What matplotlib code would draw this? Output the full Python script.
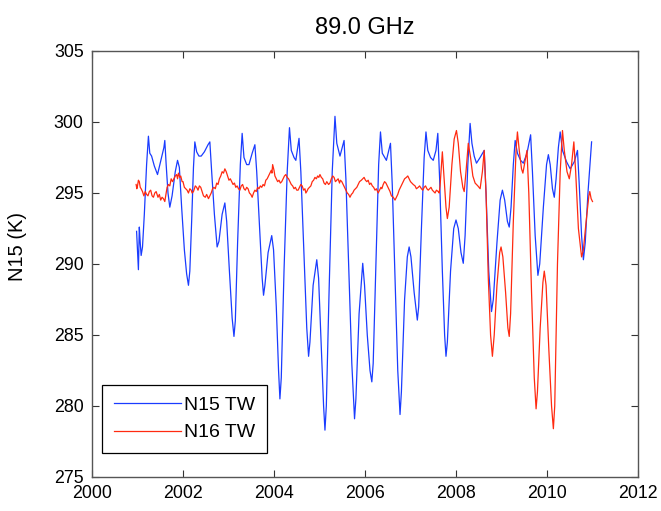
import matplotlib
matplotlib.use("Agg")
import matplotlib.pyplot as plt

plt.rcParams['font.family'] = ['Liberation Sans', 'DejaVu Sans']

title = "89.0 GHz"
ylabel = "N15 (K)"
labels = ["N15 TW", "N16 TW"]

n15_t = [2000.98, 2001.00, 2001.02, 2001.04, 2001.06, 2001.08, 2001.11, 2001.15, 2001.20, 2001.24,
         2001.27, 2001.31, 2001.37, 2001.44, 2001.52, 2001.58, 2001.60, 2001.63, 2001.67, 2001.71,
         2001.76, 2001.83, 2001.88, 2001.92, 2001.97, 2002.03, 2002.08, 2002.12, 2002.15, 2002.19,
         2002.23, 2002.26, 2002.30, 2002.35, 2002.40, 2002.47, 2002.55, 2002.59, 2002.63, 2002.69,
         2002.75, 2002.79, 2002.86, 2002.92, 2002.96, 2003.02, 2003.08, 2003.12, 2003.15, 2003.20,
         2003.26, 2003.30, 2003.34, 2003.40, 2003.45, 2003.52, 2003.58, 2003.62, 2003.68, 2003.74,
         2003.77, 2003.80, 2003.87, 2003.95, 2003.99, 2004.05, 2004.10, 2004.13, 2004.16, 2004.22,
         2004.29, 2004.34, 2004.38, 2004.44, 2004.48, 2004.55, 2004.59, 2004.66, 2004.72, 2004.76,
         2004.79, 2004.86, 2004.94, 2004.98, 2005.04, 2005.09, 2005.12, 2005.15, 2005.21, 2005.28,
         2005.34, 2005.38, 2005.45, 2005.54, 2005.58, 2005.64, 2005.71, 2005.77, 2005.80, 2005.87,
         2005.95, 2005.99, 2006.05, 2006.11, 2006.15, 2006.18, 2006.24, 2006.30, 2006.34, 2006.38,
         2006.47, 2006.56, 2006.60, 2006.66, 2006.72, 2006.77, 2006.80, 2006.87, 2006.93, 2006.97,
         2007.01, 2007.08, 2007.15, 2007.18, 2007.24, 2007.30, 2007.34, 2007.38, 2007.44, 2007.50,
         2007.56, 2007.60, 2007.64, 2007.70, 2007.75, 2007.78, 2007.81, 2007.88, 2007.95, 2008.00,
         2008.05, 2008.11, 2008.16, 2008.20, 2008.26, 2008.31, 2008.35, 2008.40, 2008.45, 2008.53,
         2008.62, 2008.66, 2008.72, 2008.78, 2008.82, 2008.90, 2008.97, 2009.02, 2009.07, 2009.13,
         2009.17, 2009.21, 2009.26, 2009.30, 2009.35, 2009.42, 2009.48, 2009.56, 2009.64, 2009.68,
         2009.74, 2009.80, 2009.84, 2009.92, 2009.99, 2010.03, 2010.07, 2010.12, 2010.16, 2010.20,
         2010.25, 2010.29, 2010.34, 2010.43, 2010.51, 2010.60, 2010.67, 2010.71, 2010.76, 2010.80,
         2010.84, 2010.90, 2010.98]
n15_v = [292.3, 291.0, 289.6, 292.6, 291.5, 290.6, 291.2, 293.5, 297.0, 299.0,
         297.8, 297.6, 296.9, 296.3, 297.4, 298.2, 298.7, 297.0, 295.0, 294.0,
         294.8, 296.5, 297.3, 296.8, 294.0, 291.0, 289.3, 288.5, 289.5, 293.0,
         296.8, 298.6, 297.9, 297.6, 297.6, 297.9, 298.4, 298.6, 296.5, 293.5,
         291.2, 291.6, 293.5, 294.3, 293.0, 289.5, 286.2, 284.9, 286.0, 291.5,
         297.0, 299.2, 297.5, 297.0, 297.0, 297.8, 298.4, 296.5, 292.8, 289.0,
         287.8, 288.5, 290.8, 292.0, 291.0, 287.0, 282.5, 280.5, 282.0, 289.5,
         296.5, 299.6, 298.0, 297.5, 297.3, 298.85, 296.5, 290.5, 285.5, 283.5,
         284.5, 288.5, 290.3, 289.0, 284.0, 280.0, 278.3, 280.0, 288.0, 296.5,
         300.4, 298.5, 297.6, 298.7, 296.0, 290.0, 283.0, 279.1, 280.5, 286.5,
         290.05, 288.5, 285.0, 282.5, 281.7, 283.0, 290.0, 297.0, 299.3, 297.8,
         297.3, 298.5, 295.5, 289.0, 282.5, 279.4, 281.0, 287.5, 290.5, 291.2,
         290.5, 288.0, 286.05, 287.0, 292.5, 297.5, 299.3, 298.0, 297.5, 297.3,
         298.0, 299.2, 296.0, 289.5, 285.0, 283.5, 284.5, 289.5, 292.5, 293.1,
         292.5, 290.8, 290.05, 292.0, 297.0, 299.9, 298.5, 297.6, 297.1, 297.5,
         298.0, 295.0, 289.5, 286.65, 287.5, 291.5, 294.5, 295.2, 294.5, 293.0,
         292.6, 294.0, 297.0, 298.7, 297.8, 297.3, 297.1, 297.8, 299.1, 296.5,
         292.0, 289.2, 290.0, 294.0, 297.0, 297.7, 297.0, 295.3, 294.7, 296.0,
         298.2, 299.3, 298.0, 297.2, 296.7, 297.2, 298.0, 295.5, 292.0, 290.3,
         291.5, 295.0, 298.6]

n16_t = [2000.97, 2000.985, 2001.00, 2001.02, 2001.04, 2001.06, 2001.08, 2001.11, 2001.14, 2001.17,
         2001.20, 2001.23, 2001.26, 2001.29, 2001.32, 2001.35, 2001.38, 2001.41, 2001.45, 2001.48,
         2001.51, 2001.54, 2001.57, 2001.60, 2001.62, 2001.65, 2001.68, 2001.71, 2001.74, 2001.77,
         2001.80, 2001.83, 2001.86, 2001.88, 2001.90, 2001.93, 2001.95, 2001.98, 2002.00, 2002.03,
         2002.06, 2002.09, 2002.12, 2002.15, 2002.18, 2002.20, 2002.23, 2002.27, 2002.30, 2002.33,
         2002.36, 2002.39, 2002.42, 2002.45, 2002.49, 2002.52, 2002.56, 2002.59, 2002.62, 2002.65,
         2002.68, 2002.71, 2002.74, 2002.77, 2002.80, 2002.83, 2002.86, 2002.89, 2002.92, 2002.95,
         2002.98, 2003.01, 2003.04, 2003.07, 2003.10, 2003.13, 2003.16, 2003.19, 2003.22, 2003.25,
         2003.28, 2003.31, 2003.34, 2003.37, 2003.40, 2003.43, 2003.46, 2003.49, 2003.52, 2003.55,
         2003.58, 2003.61, 2003.64, 2003.67, 2003.70, 2003.73, 2003.76, 2003.79, 2003.82, 2003.85,
         2003.88, 2003.91, 2003.94, 2003.955, 2003.97, 2004.00, 2004.02, 2004.05, 2004.08, 2004.11,
         2004.14, 2004.17, 2004.20, 2004.23, 2004.26, 2004.29, 2004.32, 2004.35, 2004.38, 2004.41,
         2004.44, 2004.47, 2004.50, 2004.53, 2004.56, 2004.59, 2004.62, 2004.65, 2004.68, 2004.70,
         2004.72, 2004.75, 2004.78, 2004.81, 2004.84, 2004.87, 2004.90, 2004.93, 2004.96, 2004.985,
         2005.01, 2005.04, 2005.07, 2005.10, 2005.13, 2005.16, 2005.20, 2005.23, 2005.26, 2005.29,
         2005.32, 2005.35, 2005.38, 2005.41, 2005.44, 2005.46, 2005.49, 2005.52, 2005.55, 2005.58,
         2005.61, 2005.64, 2005.67, 2005.70, 2005.73, 2005.76, 2005.79, 2005.82, 2005.85, 2005.88,
         2005.92, 2005.95, 2005.98, 2006.01, 2006.04, 2006.07, 2006.10, 2006.13, 2006.16, 2006.19,
         2006.22, 2006.25, 2006.29, 2006.32, 2006.35, 2006.37, 2006.40, 2006.43, 2006.46, 2006.49,
         2006.52, 2006.55, 2006.58, 2006.62, 2006.66, 2006.69, 2006.72, 2006.75, 2006.78, 2006.81,
         2006.84, 2006.87, 2006.91, 2006.94, 2006.97, 2007.00, 2007.03, 2007.06, 2007.10, 2007.13,
         2007.17, 2007.20, 2007.24, 2007.27, 2007.30, 2007.33, 2007.36, 2007.39, 2007.42, 2007.45,
         2007.48, 2007.51, 2007.54, 2007.57, 2007.61, 2007.63, 2007.65,
         2007.70, 2007.74, 2007.78, 2007.81, 2007.85, 2007.91,
         2007.96, 2008.01, 2008.05, 2008.10, 2008.15, 2008.18, 2008.22, 2008.27, 2008.32, 2008.37,
         2008.42, 2008.48, 2008.53, 2008.58, 2008.62, 2008.66, 2008.71, 2008.76, 2008.80, 2008.84,
         2008.90, 2008.96, 2008.99, 2009.03, 2009.09, 2009.14, 2009.17, 2009.20, 2009.26, 2009.32,
         2009.35, 2009.39, 2009.44, 2009.47, 2009.52, 2009.56, 2009.60, 2009.66, 2009.72, 2009.76,
         2009.79, 2009.85, 2009.91, 2009.94, 2009.98, 2010.04, 2010.10, 2010.14, 2010.17, 2010.23,
         2010.29, 2010.34, 2010.38, 2010.44, 2010.49, 2010.54, 2010.59, 2010.63, 2010.69, 2010.76,
         2010.80, 2010.86, 2010.92, 2010.94, 2010.97, 2011.00]
n16_v = [295.6, 295.3, 295.5, 295.9, 295.8, 295.4, 295.3, 295.1, 294.8, 295.1,
         294.9, 294.8, 295.1, 295.2, 294.8, 294.7, 295.0, 295.1, 294.7, 294.9,
         294.5, 294.7, 294.6, 294.4, 294.8, 295.4, 295.6, 295.5, 296.0, 295.8,
         296.0, 296.2, 296.3, 296.0, 296.4, 296.1, 296.2, 295.8, 295.8, 295.4,
         295.3, 295.2, 295.0, 295.3, 295.2, 295.0, 295.1, 295.5, 295.4, 295.2,
         295.5, 295.4, 295.1, 294.8, 294.7, 294.9, 294.6, 294.8, 295.0, 295.3,
         295.4, 295.3, 295.7, 295.6, 296.0, 296.2, 296.5, 296.4, 296.7, 296.5,
         296.2, 295.9, 296.0, 295.8, 295.6, 295.7, 295.4, 295.5, 295.3, 295.2,
         295.5, 295.6, 295.3, 295.2, 295.4, 295.3, 295.0, 294.9, 294.7, 295.0,
         295.2, 295.1, 295.4, 295.3, 295.5, 295.4, 295.6, 295.5, 295.9, 296.0,
         296.2, 296.4, 296.6, 296.4, 297.0, 296.6, 296.2, 296.0, 295.8, 295.9,
         295.7, 295.8, 296.0, 296.2, 296.3, 296.1, 296.0, 295.8, 295.6, 295.5,
         295.3, 295.4, 295.2, 295.2, 295.4, 295.6, 295.5, 295.2, 295.3, 295.0,
         295.1, 295.3, 295.4, 295.5, 295.8, 295.9, 296.1, 296.0, 296.2, 296.1,
         296.3, 296.1, 296.0, 295.7, 295.6, 295.8, 295.6, 295.7, 296.0, 296.2,
         296.1, 295.8, 295.9, 296.0, 295.7, 295.9, 295.8, 295.6, 295.4, 295.2,
         295.0, 294.9, 294.7, 294.9, 295.0, 295.2, 295.3, 295.4, 295.6, 295.8,
         295.9, 296.0, 296.1, 295.9, 295.8, 295.9, 295.6, 295.7, 295.5, 295.4,
         295.2, 295.3, 295.0, 295.2, 295.4, 295.3, 295.6, 295.8, 295.7, 295.5,
         295.3, 295.1, 294.8, 294.7, 294.5, 294.7, 294.9, 295.2, 295.4, 295.6,
         295.8, 296.0, 296.1, 296.2, 296.0, 295.8, 295.7, 295.6, 295.5, 295.3,
         295.4, 295.5, 295.3, 295.2, 295.4, 295.5, 295.3, 295.2, 295.3, 295.4,
         295.2, 295.1, 295.0, 295.2, 295.1, 295.0, 295.5,
         297.9, 296.0, 294.0, 293.2, 294.0, 297.0,
         298.8, 299.4, 298.5, 296.5, 295.4, 295.1, 296.5, 298.5, 297.5, 296.2,
         295.7, 295.5, 295.3, 296.5, 298.0, 295.0, 289.0, 285.0, 283.5, 285.0,
         288.5, 290.8, 291.2, 290.5, 288.0, 285.5, 284.9, 286.5, 293.0, 298.0,
         299.3, 298.0, 296.7, 296.4, 297.3, 298.0, 295.0, 288.0, 282.0, 279.8,
         281.0, 285.5, 288.7, 289.5, 288.5, 284.0, 280.0, 278.4, 280.0, 290.0,
         296.5, 299.4, 298.0, 296.5, 296.0, 297.0, 298.6, 296.5, 292.5, 290.5,
         291.0, 293.0, 294.8, 295.1, 294.6, 294.4]

x_ticks = [2000, 2002, 2004, 2006, 2008, 2010, 2012]
y_ticks = [275, 280, 285, 290, 295, 300, 305]

fig = plt.figure(figsize=(6.61, 5.11), dpi=100)
ax = fig.add_axes([92/661, 34/511, 546/661, 426/511])

ax.plot(n15_t, n15_v, color='#1a3cff', lw=0.9, label=labels[0])
ax.plot(n16_t, n16_v, color='#ff2a10', lw=0.9, label=labels[1])

ax.set_xlim(2000, 2012)
ax.set_ylim(275, 305)
ax.set_xticks(x_ticks)
ax.set_yticks(y_ticks)
ax.tick_params(direction='in', top=True, right=True, length=5, width=0.8,
               labelsize=12.8, color='#333333', pad=6)
for s in ax.spines.values():
    s.set_color('#555555')
    s.set_linewidth(1.0)

ax.set_title(title, fontsize=17, pad=12)
ax.set_ylabel(ylabel, fontsize=14.5)
ax.yaxis.set_label_coords(-0.119, 0.54)

leg = ax.legend(loc='lower left', bbox_to_anchor=(0.019, 0.056), borderaxespad=0,
                fontsize=14, handlelength=3.45, handletextpad=0.15, labelspacing=0.5,
                borderpad=0.6, fancybox=False, framealpha=1)
leg.get_frame().set_edgecolor('black')
leg.get_frame().set_linewidth(0.9)

fig.savefig('out.png', dpi=100)
